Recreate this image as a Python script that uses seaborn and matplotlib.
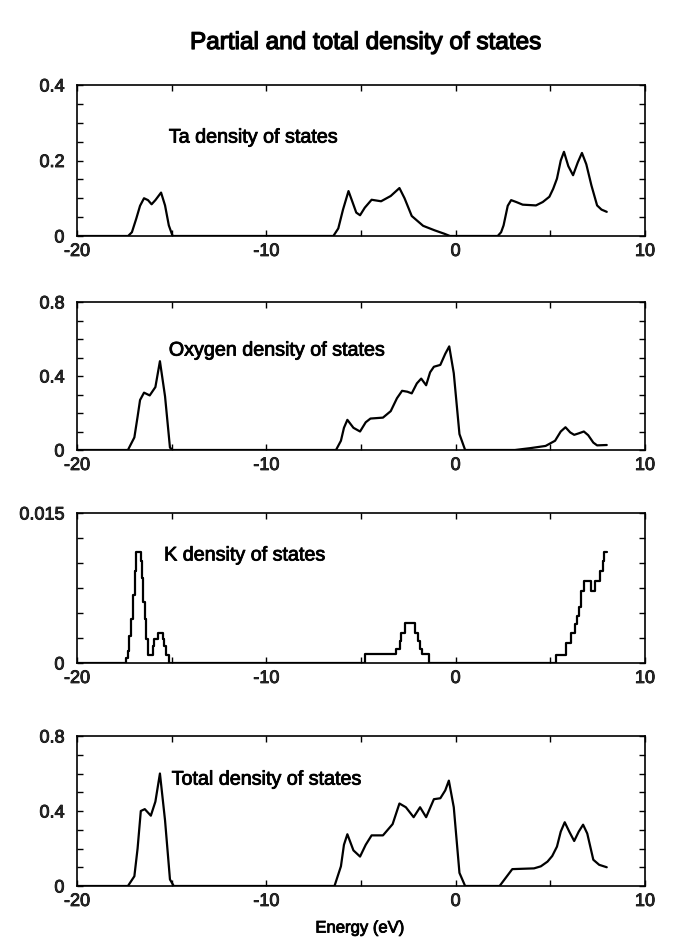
import numpy as np
import pandas as pd
import matplotlib
matplotlib.use("Agg")
import matplotlib.pyplot as plt
import matplotlib.patheffects as pe
from matplotlib.ticker import MultipleLocator, FixedLocator, FixedFormatter
import seaborn as sns

sns.set_style("ticks")
plt.rcParams['font.family'] = ['Liberation Sans', 'DejaVu Sans']

# ---------------- data ----------------
ta_energy = [-20, -17.3, -17.1, -16.87, -16.67, -16.46, -16.25, -16.06, -15.86, -15.56, -15.35, -15.15, -14.95,
             -6.46, -6.2, -5.95, -5.66, -5.45, -5.25, -5.05, -4.8, -4.44, -3.94, -3.43, -2.97, -2.7, -2.32,
             -1.72, -1.11, -0.6, -0.3,
             2.22, 2.4, 2.53, 2.75, 2.93, 3.2, 3.54, 4.24, 4.6, 4.95, 5.15, 5.35, 5.55, 5.72, 5.95, 6.2,
             6.45, 6.67, 6.9, 7.17, 7.47, 7.7, 7.98]
ta_dos = [0, 0, 0.01, 0.046, 0.08, 0.10, 0.095, 0.084, 0.095, 0.115, 0.081, 0.028, 0,
          0, 0.02, 0.07, 0.119, 0.09, 0.062, 0.055, 0.075, 0.096, 0.092, 0.106, 0.127, 0.1, 0.053,
          0.027, 0.015, 0.006, 0,
          0, 0.01, 0.028, 0.08, 0.095, 0.09, 0.083, 0.081, 0.09, 0.104, 0.125, 0.152, 0.2, 0.223, 0.185, 0.161,
          0.195, 0.22, 0.19, 0.134, 0.081, 0.07, 0.064]

o_energy = [-20, -17.31, -16.97, -16.8, -16.67, -16.46, -16.16, -15.86, -15.62, -15.35, -15.09, -14.95,
            -6.32, -6.06, -5.9, -5.72, -5.4, -5.05, -4.75, -4.5, -3.84, -3.43, -3.1, -2.83, -2.55, -2.32,
            -2.05, -1.82, -1.56, -1.35, -1.15, -0.81, -0.55, -0.34, -0.1, 0.2, 0.5,
            3.13, 3.94, 4.75, 5.25, 5.55, 5.8, 6.05, 6.26, 6.5, 6.77, 7.0, 7.27, 7.47, 7.98]
o_dos = [0, 0, 0.068, 0.18, 0.27, 0.31, 0.295, 0.34, 0.48, 0.29, 0.013, 0,
         0, 0.05, 0.12, 0.163, 0.12, 0.10, 0.15, 0.17, 0.175, 0.21, 0.28, 0.32, 0.315, 0.306,
         0.36, 0.386, 0.35, 0.42, 0.45, 0.46, 0.52, 0.56, 0.415, 0.086, 0,
         0, 0.01, 0.022, 0.05, 0.1, 0.123, 0.095, 0.082, 0.09, 0.10, 0.08, 0.04, 0.025, 0.027]

k_energy = [-20, -17.40, -17.31, -17.23, -17.14, -17.05, -16.96, -16.87, -16.61, -16.56, -16.49, -16.43,
            -16.35, -16.26, -15.99, -15.91, -15.73, -15.47, -15.38, -15.29, -15.15,
            -4.81, -3.14, -2.96, -2.87, -2.70, -2.17, -2.00, -1.91, -1.77, -1.42,
            5.31, 5.84, 6.10, 6.32, 6.42, 6.51, 6.60, 6.77, 7.13, 7.37, 7.60, 7.78, 7.86, 7.99]
k_dos = [0, 0.0005, 0.0012, 0.0027, 0.0044, 0.0068, 0.0092, 0.0111, 0.0102, 0.0085, 0.0061, 0.0044,
         0.0024, 0.0008, 0.0017, 0.0024, 0.0030, 0.0024, 0.0017, 0.0008, 0,
         0.00092, 0.00144, 0.00222, 0.0030, 0.0040, 0.0030, 0.00222, 0.00144, 0.00092, 0,
         0.00085, 0.00198, 0.00298, 0.00393, 0.00472, 0.00565, 0.00719, 0.00822, 0.00719, 0.00822,
         0.00925, 0.0102, 0.0111, 0.0111]

tot_energy = [-20, -17.31, -16.97, -16.8, -16.63, -16.42, -16.1, -15.86, -15.62, -15.35, -15.09, -14.89,
              -6.4, -6.06, -5.9, -5.72, -5.4, -5.05, -4.75, -4.44, -3.84, -3.33, -2.97, -2.63, -2.22,
              -1.88, -1.56, -1.15, -0.81, -0.55, -0.36, -0.1, 0.2, 0.5,
              2.32, 2.99, 4.14, 4.5, 4.85, 5.1, 5.35, 5.55, 5.76, 6.0, 6.26, 6.5, 6.73, 6.95, 7.27, 7.58, 7.98]
tot_dos = [0, 0, 0.052, 0.2, 0.40, 0.41, 0.375, 0.45, 0.60, 0.35, 0.035, 0,
           0, 0.105, 0.22, 0.276, 0.19, 0.157, 0.22, 0.27, 0.27, 0.33, 0.44, 0.42, 0.367,
           0.42, 0.367, 0.463, 0.468, 0.51, 0.562, 0.42, 0.07, 0,
           0, 0.09, 0.094, 0.105, 0.13, 0.16, 0.21, 0.29, 0.34, 0.29, 0.24, 0.29, 0.327, 0.28, 0.14, 0.113, 0.10]

panel_labels = ["Ta density of states", "Oxygen density of states",
                "K density of states", "Total density of states"]
y_max = [0.4, 0.8, 0.015, 0.8]
y_ticklabels = [["0", "0.2", "0.4"], ["0", "0.4", "0.8"], ["0", "0.015"], ["0", "0.4", "0.8"]]
y_labelticks = [[0, 0.2, 0.4], [0, 0.4, 0.8], [0, 0.015], [0, 0.4, 0.8]]
y_minor = [0.05, 0.1, 0.0025, 0.1]
x_ticks = [-20, -10, 0, 10]
x_ticklabels = ["-20", "-10", "0", "10"]
label_pos = [(-15.15, 0.262), (-15.15, 0.54), (-15.4, 0.0108), (-15.0, 0.57)]

series = [(ta_energy, ta_dos, "default"), (o_energy, o_dos, "default"),
          (k_energy, k_dos, "steps-post"), (tot_energy, tot_dos, "default")]

# ---------------- figure ----------------
W, H = 679, 945
fig = plt.figure(figsize=(W / 100, H / 100), dpi=100)
left, right = 77 / W, 645 / W
panels_px = [(86, 237), (303, 451), (514, 664), (737, 887)]
thick = [pe.withStroke(linewidth=0.6, foreground="black")]

for i, ((top, bot), (xs, ys, ds)) in enumerate(zip(panels_px, series)):
    ax = fig.add_axes([left, 1 - bot / H, right - left, (bot - top) / H])
    df = pd.DataFrame({"E": xs, "D": ys})
    sns.lineplot(data=df, x="E", y="D", ax=ax, color="black", linewidth=1.6,
                 drawstyle=ds, estimator=None, sort=False, legend=False)
    ax.set_xlim(-20, 10)
    ax.set_ylim(0, y_max[i])
    ax.xaxis.set_major_locator(FixedLocator(x_ticks))
    ax.xaxis.set_major_formatter(FixedFormatter(x_ticklabels))
    ax.xaxis.set_minor_locator(MultipleLocator(5))
    ax.yaxis.set_major_locator(FixedLocator(y_labelticks[i]))
    ax.yaxis.set_major_formatter(FixedFormatter(y_ticklabels[i]))
    ax.yaxis.set_minor_locator(MultipleLocator(y_minor[i]))
    ax.tick_params(which="both", direction="in", top=True, right=True,
                   length=4.5, width=1.0, color="black")
    ax.tick_params(axis="x", which="major", labelsize=13, pad=5)
    ax.tick_params(axis="y", which="major", labelsize=13, pad=9)
    for lab in ax.get_xticklabels() + ax.get_yticklabels():
        lab.set_path_effects(thick)
    for sp in ax.spines.values():
        sp.set_linewidth(1.2)
        sp.set_color("black")
    ax.set_xlabel("")
    ax.set_ylabel("")
    ax.text(label_pos[i][0], label_pos[i][1], panel_labels[i], fontsize=14.2,
            ha="left", va="center", color="black", path_effects=thick)

fig.text(365 / W, 1 - 44 / H, "Partial and total density of states",
         fontsize=17.5, ha="center", va="center", color="black",
         path_effects=[pe.withStroke(linewidth=0.9, foreground="black")])
fig.text(360 / W, 1 - 929 / H, "Energy (eV)", fontsize=12,
         ha="center", va="center", color="black", path_effects=thick)

fig.savefig("out.png", dpi=100, facecolor="white")
